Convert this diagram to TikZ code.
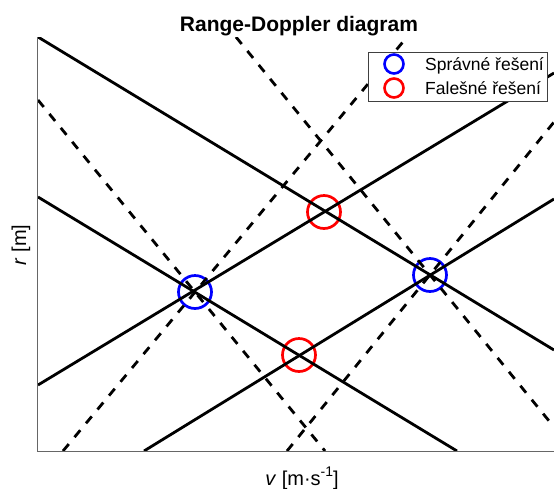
\documentclass[tikz,border=0pt]{standalone}
\usepackage{fontspec}
\setmainfont{Liberation Sans}
\begin{document}
\begin{tikzpicture}[x=1pt,y=-1pt,
  solidl/.style={line width=2.8pt, draw=black},
  dashl/.style={line width=2.8pt, draw=black, dash pattern=on 9pt off 9pt},
  axisl/.style={line width=0.8pt, draw=black!60},
  bluering/.style={line width=2.7pt, draw={rgb,255:red,0;green,0;blue,255}},
  redring/.style={line width=2.7pt, draw={rgb,255:red,255;green,0;blue,0}},
  legtext/.style={anchor=base west, inner sep=0pt, font=\fontsize{17.5}{17.5}\selectfont},
  labtext/.style={inner sep=0pt, font=\fontsize{20}{20}\selectfont}]
\useasboundingbox (0,0) rectangle (554,488);
% solution points
\coordinate (B1) at (195,292);
\coordinate (B2) at (430,275);
\coordinate (R1) at (324,212);
\coordinate (R2) at (299,355);
% circles (below the lines)
\draw[bluering] (B1) circle (16.5);
\draw[bluering] (B2) circle (16.5);
\draw[redring] (R1) circle (16.5);
\draw[redring] (R2) circle (16.5);
% line end points
\coordinate (L1a) at (38,37);   \coordinate (L1b) at (554,350);
\coordinate (L2a) at (38,197);  \coordinate (L2b) at (457,451);
\coordinate (L3a) at (38,385);  \coordinate (L3b) at (554,73);
\coordinate (L4a) at (144,451); \coordinate (L4b) at (554,199);
\coordinate (D1a) at (38,100);  \coordinate (D1b) at (325,451);
\coordinate (D2a) at (63,451);  \coordinate (D2b) at (407,37);
\coordinate (D3a) at (236,37);  \coordinate (D3b) at (554,427);
\coordinate (D4a) at (287,451); \coordinate (D4b) at (554,122);
\begin{scope}
  \clip (37,37) rectangle (554,451);
  \draw[solidl] (L1a) -- (L1b);
  \draw[solidl] (L2a) -- (L2b);
  \draw[solidl] (L3a) -- (L3b);
  \draw[solidl] (L4a) -- (L4b);
  \draw[dashl] (D1a) -- (D1b);
  \draw[dashl] (D2a) -- (D2b);
  \draw[dashl] (D3a) -- (D3b);
  \draw[dashl] (D4a) -- (D4b);
\end{scope}
% axes
\coordinate (AxTL) at (37,37);
\coordinate (AxBL) at (37,451);
\coordinate (AxBR) at (554,451);
\draw[axisl] (AxTL) -- (AxBL) -- (AxBR);
% title and labels
\node[anchor=base, inner sep=0pt, font=\bfseries\fontsize{21}{21}\selectfont] (title) at (299,31) {Range-Doppler diagram};
\node[labtext, anchor=base] (xlab) at (302,485) {\textit{v} [m·s\raisebox{0.8ex}{\fontsize{14}{14}\selectfont -1}]};
\node[labtext, anchor=base, rotate=90] (ylab) at (26,245) {\textit{r} [m]};
% legend
\node[draw=black!75, line width=0.6pt, fill=white, minimum width=179pt, minimum height=49pt, inner sep=0pt] (legend) at (457.5,76.5) {};
\draw[bluering, line width=2.6pt] (394,64) circle (9.5);
\draw[redring, line width=2.6pt] (394,88) circle (9.5);
\node[legtext] (leg1) at (425,70.5) {Správné řešení};
\node[legtext] (leg2) at (425,94.5) {Falešné řešení};
\end{tikzpicture}
\end{document}
